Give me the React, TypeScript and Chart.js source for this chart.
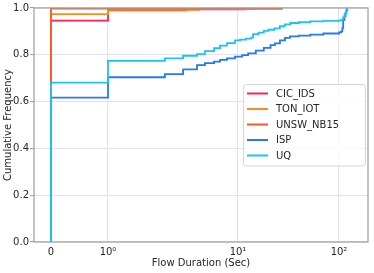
import React, { useEffect, useRef } from 'react';
import { Chart, registerables } from 'chart.js';

Chart.register(...registerables);

// ---- data (x in seconds, y = cumulative frequency) ----
const seriesNames = ['CIC_IDS', 'TON_IOT', 'UNSW_NB15', 'ISP', 'UQ'];
const seriesColors = ['#FF1F5A', '#FF8C1A', '#FF5722', '#2479F5', '#1EC2F7'];

const cicX = [0, 0, 1, 4, 12, 27];
const cicY = [0, 0.946, 0.990, 0.994, 0.997, 1.0];

const tonX = [0, 0, 1, 5, 15, 27];
const tonY = [0, 0.974, 0.992, 0.995, 0.998, 1.0];

const unswX = [0, 0, 10, 27];
const unswY = [0, 0.997, 0.998, 1.0];

const ispX = [0, 0, 1, 2.74, 3.78, 4.84, 5.57, 6.54, 7.27, 8.23, 9.48, 11, 12.6, 15, 18, 21, 23.2, 26, 29.2, 32.7, 40, 52, 70, 100, 105, 108, 110, 113, 116, 118, 120];
const ispY = [0, 0.617, 0.704, 0.717, 0.738, 0.756, 0.764, 0.771, 0.778, 0.785, 0.792, 0.799, 0.806, 0.818, 0.830, 0.841, 0.849, 0.862, 0.872, 0.879, 0.882, 0.886, 0.891, 0.896, 0.900, 0.915, 0.949, 0.965, 0.978, 0.99, 1.0];

const uqX = [0, 0, 1, 2.74, 3.78, 4.84, 5.57, 6.54, 7.27, 8.23, 9.48, 10.5, 12, 13.5, 14.1, 16, 18, 20, 23, 26, 29, 33, 40, 52, 70, 100, 106, 110, 114, 118, 121];
const uqY = [0, 0.681, 0.774, 0.785, 0.796, 0.803, 0.816, 0.828, 0.839, 0.850, 0.862, 0.865, 0.869, 0.873, 0.888, 0.895, 0.902, 0.907, 0.913, 0.922, 0.930, 0.936, 0.939, 0.943, 0.945, 0.947, 0.950, 0.960, 0.975, 0.990, 1.0];

const xTickValues = [0, 1, 10, 100];
const xTickLabels = ['0', '10\u2070', '10\u00B9', '10\u00B2'];
const yTickValues = [0, 0.2, 0.4, 0.6, 0.8, 1.0];

// piecewise symlog-like axis transform (matches reference spacing)
const toU = (x: number) =>
  x <= 1 ? x * 57 : x <= 10 ? 57 + 130 * Math.log10(x) : 187 + 101 * Math.log10(x / 10);

const FONT = 'DejaVu Sans';
const TEXT = '#262626';
const SPINE = '#a0a0a0';
const GRID = '#e3e3e3';

const framePlugin = {
  id: 'frame',
  afterDatasetsDraw(chart: any) {
    const { ctx, chartArea: a } = chart;
    ctx.save();
    ctx.strokeStyle = SPINE;
    ctx.lineWidth = 1.25;
    ctx.strokeRect(a.left, a.top, a.right - a.left, a.bottom - a.top);
    ctx.restore();
  },
};

const legendPlugin = {
  id: 'mplLegend',
  afterDraw(chart: any) {
    const { ctx } = chart;
    const x0 = 243.5, y0 = 84.5, w = 122, h = 81.5, r = 3;
    ctx.save();
    ctx.beginPath();
    ctx.moveTo(x0 + r, y0);
    ctx.arcTo(x0 + w, y0, x0 + w, y0 + h, r);
    ctx.arcTo(x0 + w, y0 + h, x0, y0 + h, r);
    ctx.arcTo(x0, y0 + h, x0, y0, r);
    ctx.arcTo(x0, y0, x0 + w, y0, r);
    ctx.closePath();
    ctx.fillStyle = 'rgba(255,255,255,0.85)';
    ctx.fill();
    ctx.strokeStyle = '#d6d6d6';
    ctx.lineWidth = 1;
    ctx.stroke();
    ctx.font = `10px "${FONT}"`;
    ctx.textBaseline = 'middle';
    ctx.textAlign = 'left';
    seriesNames.forEach((name, i) => {
      const yy = 93.5 + i * 15.5;
      ctx.strokeStyle = seriesColors[i];
      ctx.lineWidth = 2;
      ctx.beginPath();
      ctx.moveTo(247, yy);
      ctx.lineTo(268, yy);
      ctx.stroke();
      ctx.fillStyle = TEXT;
      ctx.fillText(name, 276, yy + 0.5);
    });
    ctx.restore();
  },
};

const pairs = (xs: number[], ys: number[]) => xs.map((x, i) => ({ x: toU(x), y: ys[i] }));

export default function App() {
  const ref = useRef<HTMLCanvasElement>(null);
  useEffect(() => {
    if (!ref.current) return;
    const allX = [cicX, tonX, unswX, ispX, uqX];
    const allY = [cicY, tonY, unswY, ispY, uqY];
    const chart = new Chart(ref.current, {
      type: 'line',
      data: {
        datasets: seriesNames.map((name, i) => ({
          label: name,
          data: pairs(allX[i], allY[i]),
          borderColor: seriesColors[i],
          backgroundColor: seriesColors[i],
          borderWidth: 1.8,
          pointRadius: 0,
          stepped: 'before' as const,
          fill: false,
          order: seriesNames.length - 1 - i, // later series drawn on top
        })),
      },
      options: {
        animation: false,
        responsive: false,
        devicePixelRatio: 1,
        layout: { padding: { top: 8, right: 6, left: 0, bottom: 0 } },
        plugins: { legend: { display: false }, tooltip: { enabled: false } },
        scales: {
          x: {
            type: 'linear',
            min: -17,
            max: 317,
            afterFit: (s: any) => { s.height = 31; },
            afterBuildTicks: (s: any) => { s.ticks = xTickValues.map((v) => ({ value: toU(v) })); },
            ticks: {
              callback: (_v: any, i: number) => xTickLabels[i],
              font: { family: FONT, size: 10 },
              color: TEXT,
              padding: 0,
              maxRotation: 0,
              autoSkip: false,
            },
            grid: { color: GRID, lineWidth: 1.1, drawTicks: true, tickLength: 4, tickColor: 'rgba(0,0,0,0)' },
            border: { display: false },
            title: {
              display: true,
              text: 'Flow Duration (Sec)',
              font: { family: FONT, size: 10 },
              color: TEXT,
              padding: { top: 0, bottom: 4 },
            },
          },
          y: {
            type: 'linear',
            min: 0,
            max: 1,
            afterFit: (s: any) => { s.width = 34; },
            afterBuildTicks: (s: any) => { s.ticks = yTickValues.map((v) => ({ value: v })); },
            ticks: {
              callback: (v: any) => Number(v).toFixed(1),
              font: { family: FONT, size: 10 },
              color: TEXT,
              padding: 1,
            },
            grid: { color: GRID, lineWidth: 1.1, drawTicks: true, tickLength: 4, tickColor: SPINE },
            border: { display: false },
            title: {
              display: true,
              text: 'Cumulative Frequency',
              font: { family: FONT, size: 10 },
              color: TEXT,
              padding: { top: 2, bottom: 0 },
            },
          },
        },
      },
      plugins: [framePlugin, legendPlugin],
    });
    return () => chart.destroy();
  }, []);
  return (
    <div style={{ position: 'absolute', left: 0, top: 0, width: 374, height: 273, background: '#fff' }}>
      <canvas ref={ref} width={374} height={273} style={{ display: 'block' }} />
    </div>
  );
}
